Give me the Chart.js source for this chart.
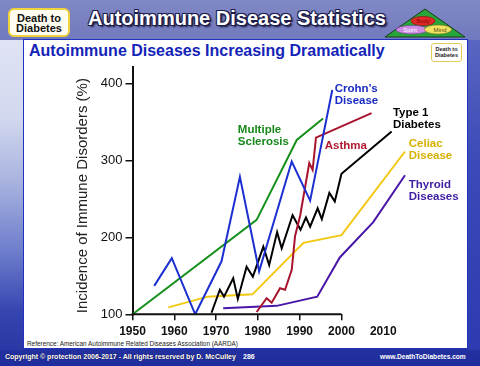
<!DOCTYPE html>
<html>
<head>
<meta charset="utf-8">
<script src="https://cdn.jsdelivr.net/npm/chart.js@4.4.1/dist/chart.umd.min.js"></script>
<style>
  html, body { margin:0; padding:0; }
  body {
    width:480px; height:366px; overflow:hidden; position:relative;
    font-family: "Liberation Sans", Arial, sans-serif;
    background: linear-gradient(to bottom, #8088c4 0%, #737bbf 10%, #5e69bb 35%, #3e4db3 65%, #2a3aa8 88%, #1f2c9b 100%);
  }
  #leftStrip { position:absolute; left:0; top:40px; width:23px; height:310px;
    background: linear-gradient(to bottom, #dfe3f3 0%, #d2d8ef 25%, #aab4e0 45%, #6e7ecc 68%, #3444b0 88%, #2a38a6 100%); }
  #rightStrip { position:absolute; left:468px; top:40px; width:12px; height:310px;
    background: linear-gradient(to bottom, #5a66c0 0%, #3a4ab8 40%, #2c3cb0 100%); }
  #badge1 { position:absolute; left:8px; top:8px; width:58px;
    background:#fffdf0; border:2.5px solid #f0d23c; border-radius:6px;
    font-weight:bold; font-size:11px; line-height:10px; text-align:center; color:#111;
    padding-top:3px; box-sizing:content-box; height:22px; }
  #title { position:absolute; left:88px; top:7px; font-weight:bold; font-size:20px; color:#fff; white-space:nowrap;
    text-shadow: 1px 1px 0 #1c1c4c, -1px -1px 0 #1c1c4c, 1px -1px 0 #1c1c4c, -1px 1px 0 #1c1c4c, 2px 2px 2px #101030; }
  #logo { position:absolute; left:383px; top:7px; }
  #panel { position:absolute; left:23px; top:39px; width:443px; height:308px; background:#fff;
    border:1.5px solid #2232c0; }
  #subtitle { position:absolute; left:29px; top:42px; font-weight:bold; font-size:16px; color:#1424b8; white-space:nowrap; }
  #badge2 { position:absolute; left:431px; top:43px; width:29px; height:15px;
    background:#fff; border:1.5px solid #e6cc55; border-radius:3px;
    font-weight:bold; font-size:5.5px; line-height:6px; text-align:center; color:#222; padding-top:2px; }
  #ref { position:absolute; left:27px; top:340px; font-size:6.4px; color:#222; white-space:nowrap; }
  #copy { position:absolute; left:5px; top:353px; font-weight:bold; font-size:7px; color:#fff; white-space:nowrap;
    text-shadow: 0 0 1px #102; }
  #page { position:absolute; left:243px; top:353px; font-weight:bold; font-size:7px; color:#fff; }
  #www { position:absolute; left:380px; top:353px; font-weight:bold; font-size:6.6px; color:#fff; white-space:nowrap; }
  #c { position:absolute; left:0; top:0; }
</style>
</head>
<body>
<div id="leftStrip"></div>
<div id="rightStrip"></div>
<div id="badge1">Death to<br>Diabetes</div>
<div id="title">Autoimmune Disease Statistics</div>
<svg id="logo" width="86" height="33" viewBox="0 0 86 33">
  <polygon points="2,30 42,2 82,30" fill="#27a43a" stroke="#1b3a1b" stroke-width="1"/>
  <ellipse cx="40" cy="14" rx="12" ry="4.6" fill="#e32626" stroke="#8a1010" stroke-width="0.6"/>
  <text x="40" y="16.2" font-size="6" text-anchor="middle" fill="#7a1010" font-family="Liberation Sans, Arial">Body</text>
  <ellipse cx="29" cy="22.7" rx="16" ry="4.3" fill="#cf8be6" stroke="#6a3a8a" stroke-width="0.6"/>
  <text x="27" y="24.8" font-size="6" text-anchor="middle" fill="#fff" font-family="Liberation Sans, Arial">Spirit</text>
  <ellipse cx="55" cy="22.5" rx="13.5" ry="4.6" fill="#f2e463" stroke="#7a6a10" stroke-width="0.6"/>
  <text x="57" y="24.7" font-size="6" text-anchor="middle" fill="#5a4a10" font-family="Liberation Sans, Arial">Mind</text>
</svg>
<div id="panel"></div>
<div id="subtitle">Autoimmune Diseases Increasing Dramatically</div>
<div id="badge2">Death to<br>Diabetes</div>
<div id="ref">Reference: American Autoimmune Related Diseases Association (AARDA)</div>
<div id="copy">Copyright © protection 2006-2017 - All rights reserved by D. McCulley</div>
<div id="page">286</div>
<div id="www">www.DeathToDiabetes.com</div>
<canvas id="c" width="480" height="366"></canvas>
<script>
// ---- data ----
const xTickYears = [1950, 1960, 1970, 1980, 1990, 2000, 2010];
const yTickValues = [100, 200, 300, 400];
const yAxisTitle = 'Incidence of Immune Disorders (%)';

const crohnsYears  = [1955.2, 1959.4, 1965.0, 1971.3, 1975.7, 1980.3, 1988.1, 1992.5, 1997.8];
const crohnsValues = [137, 173, 100, 169, 279, 156, 299, 248, 392];

const msYears  = [1950, 1979.7, 1989.3, 1995.6];
const msValues = [100, 223, 327, 355];

const asthmaYears  = [1979.7, 1982.1, 1983.3, 1985.3, 1986.5, 1988.1, 1988.9, 1990.1, 1992.3, 1993.1, 1993.9, 2007.2];
const asthmaValues = [103, 121, 115, 134, 132, 158, 202, 228, 297, 288, 330, 362];

const t1dYears  = [1968.9, 1970.9, 1971.9, 1974.1, 1975.2, 1977.3, 1978.8, 1981.3, 1982.7, 1984.6, 1985.7, 1988.3, 1990.2, 1991.5, 1992.5, 1994.3, 1995.3, 1997.1, 1998.4, 2000.0, 2012.0];
const t1dValues = [102, 132, 123, 147, 120, 162, 149, 188, 164, 207, 186, 229, 210, 226, 214, 238, 224, 258, 247, 283, 338];

const celiacYears  = [1958.6, 1968.0, 1978.7, 1990.9, 2000.0, 2015.2];
const celiacValues = [109, 123, 126, 193, 203, 312];

const thyroidYears  = [1971.7, 1984.5, 1994.2, 1999.6, 2007.6, 2015.2];
const thyroidValues = [108, 111, 123, 174, 220, 281];

const seriesNames = ["Crohn's Disease", "Multiple Sclerosis", "Asthma", "Type 1 Diabetes", "Celiac Disease", "Thyroid Diseases"];
const labelLines = [["Crohn's", "Disease"], ["Multiple", "Sclerosis"], ["Asthma"], ["Type 1", "Diabetes"], ["Celiac", "Disease"], ["Thyroid", "Diseases"]];
// label anchors (data coords of first-line baseline, left)
const labelYears  = [1998.4, 1975.2, 1996.0, 2012.3, 2016.1, 2016.1];
const labelValues = [389, 336, 315, 358, 318, 265];

// ---- styles ----
const lineColors  = ['#1c2fd0', '#17901d', '#a8142c', '#000000', '#f2c812', '#4a16a8'];
const labelColors = ['#1a2cc4', '#17881b', '#b01a30', '#000000', '#d8b000', '#3f1ea4'];

function pts(xs, ys) { return xs.map((x, i) => ({ x: x, y: ys[i] })); }
const seriesData = [
  pts(crohnsYears, crohnsValues),
  pts(msYears, msValues),
  pts(asthmaYears, asthmaValues),
  pts(t1dYears, t1dValues),
  pts(celiacYears, celiacValues),
  pts(thyroidYears, thyroidValues)
];

const datasets = seriesData.map((d, i) => ({
  label: seriesNames[i],
  data: d,
  borderColor: lineColors[i],
  backgroundColor: lineColors[i],
  borderWidth: 2,
  pointRadius: 0,
  tension: 0,
  fill: false
}));

const annotate = {
  id: 'annotate',
  afterDatasetsDraw(chart) {
    const ctx = chart.ctx, xs = chart.scales.x, ys = chart.scales.y, ca = chart.chartArea;
    ctx.save();
    // x axis line from first to sixth tick year
    ctx.strokeStyle = '#111';
    ctx.lineWidth = 2;
    ctx.beginPath();
    ctx.moveTo(xs.getPixelForValue(xTickYears[0]) - 1, ys.getPixelForValue(yTickValues[0]));
    ctx.lineTo(xs.getPixelForValue(xTickYears[5]), ys.getPixelForValue(yTickValues[0]));
    ctx.stroke();
    // series labels
    ctx.font = 'bold 11.5px "Liberation Sans", Arial, sans-serif';
    ctx.textAlign = 'left';
    ctx.textBaseline = 'alphabetic';
    labelLines.forEach((lines, i) => {
      const px = xs.getPixelForValue(labelYears[i]);
      const py = ys.getPixelForValue(labelValues[i]);
      ctx.fillStyle = labelColors[i];
      lines.forEach((t, j) => ctx.fillText(t, px, py + j * 12));
    });
    // y axis title
    ctx.translate(83, (ca.top + ca.bottom) / 2 + 5);
    ctx.rotate(-Math.PI / 2);
    ctx.textAlign = 'center';
    ctx.textBaseline = 'middle';
    ctx.font = '15px "Liberation Sans", Arial, sans-serif';
    ctx.fillStyle = '#222';
    ctx.fillText(yAxisTitle, 0, 0);
    ctx.restore();
  }
};

new Chart(document.getElementById('c'), {
  type: 'line',
  data: { datasets: datasets },
  options: {
    responsive: false,
    animation: false,
    devicePixelRatio: 1,
    layout: { padding: { left: 0, top: 67, right: 63.3, bottom: 11.7 } },
    plugins: { legend: { display: false }, tooltip: { enabled: false }, title: { display: false } },
    scales: {
      x: {
        type: 'linear',
        min: 1950, max: 2018,
        afterFit(s) { s.height = 40; },
        afterBuildTicks(s) { s.ticks = xTickYears.map(v => ({ value: v })); },
        border: { display: false },
        grid: {
          drawOnChartArea: false, drawTicks: true, tickLength: 6, lineWidth: 1.5,
          tickColor: (c) => (c.tick && c.tick.value > xTickYears[5]) ? 'rgba(0,0,0,0)' : '#111'
        },
        ticks: {
          padding: 4, color: '#111', maxRotation: 0, autoSkip: false,
          font: { family: '"Liberation Sans", Arial, sans-serif', size: 12, weight: 'bold' },
          callback: (v) => String(v)
        }
      },
      y: {
        type: 'linear',
        min: 100, max: 422,
        afterFit(s) { s.width = 132.5; },
        afterBuildTicks(s) { s.ticks = yTickValues.map(v => ({ value: v })); },
        border: { display: true, color: '#111', width: 2 },
        grid: { drawOnChartArea: false, drawTicks: true, tickLength: 7, color: '#111', lineWidth: 1.5 },
        ticks: {
          padding: 3, color: '#111',
          font: { family: '"Liberation Sans", Arial, sans-serif', size: 13 },
          callback: (v) => String(v)
        },
        title: { display: false }
      }
    }
  },
  plugins: [annotate]
});
</script>
</body>
</html>
